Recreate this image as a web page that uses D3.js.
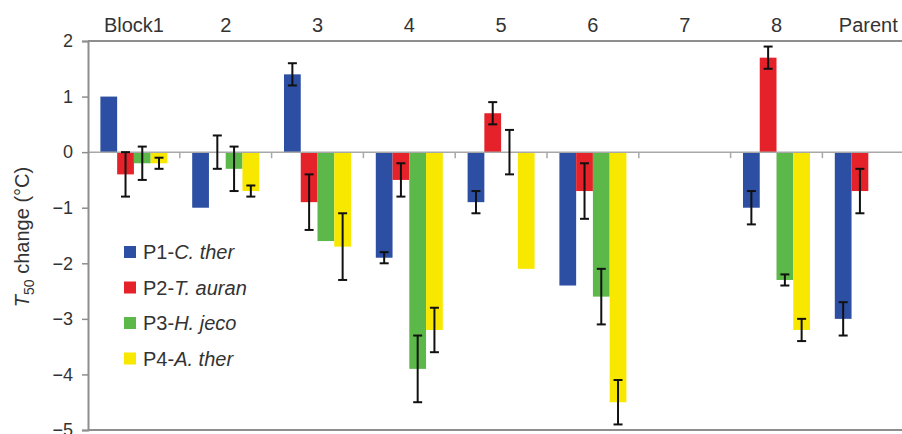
<!DOCTYPE html>
<html>
<head>
<meta charset="utf-8">
<script src="https://cdn.jsdelivr.net/npm/d3@7"></script>
<style>
  body { margin: 0; background: #fff; }
  svg { display: block; font-family: "Liberation Sans", Arial, sans-serif; }
</style>
</head>
<body>
<svg id="chart"></svg>
<script>
// categories along the top
const blocks = ["Block1", "2", "3", "4", "5", "6", "7", "8", "Parent"];
const seriesNames = ["P1", "P2", "P3", "P4"];
const seriesSpecies = ["C. ther", "T. auran", "H. jeco", "A. ther"];
const seriesColors = ["#2d4fa3", "#e52129", "#5cb848", "#f8e800"];

// T50 change values (null = no bar)
const p1Values = [1.0, -1.0, 1.4, -1.9, -0.9, -2.4, null, -1.0, -3.0];
const p2Values = [-0.4, 0, -0.9, -0.5, 0.7, -0.7, null, 1.7, -0.7];
const p3Values = [-0.2, -0.3, -1.6, -3.9, 0, -2.6, null, -2.3, null];
const p4Values = [-0.2, -0.7, -1.7, -3.2, -2.1, -4.5, null, -3.2, null];

// error bar half-lengths (null = no error bar)
const p1Errors = [null, null, 0.2, 0.1, 0.2, null, null, 0.3, 0.3];
const p2Errors = [0.4, 0.3, 0.5, 0.3, 0.2, 0.5, null, 0.2, 0.4];
const p3Errors = [0.3, 0.4, null, 0.6, 0.4, 0.5, null, 0.1, null];
const p4Errors = [0.1, 0.1, 0.6, 0.4, null, 0.4, null, 0.2, null];

const yTicks = [2, 1, 0, -1, -2, -3, -4, -5];

const WIDTH = 902;
const HEIGHT = 434;
const LEFT = 88;
const TOP = 41;
const BOTTOM = 430;
const GROUP_W = 91.8;
const AXIS_COLOR = "#8e8e8e";
const TEXT_COLOR = "#333";

const allValues = [p1Values, p2Values, p3Values, p4Values];
const allErrors = [p1Errors, p2Errors, p3Errors, p4Errors];

const svg = d3.select("#chart").attr("width", WIDTH).attr("height", HEIGHT);

const x = d3.scaleBand()
  .domain(blocks)
  .range([LEFT, LEFT + GROUP_W * blocks.length])
  .paddingInner(0.27)
  .paddingOuter(0.135);

const xInner = d3.scaleBand()
  .domain(seriesNames)
  .range([0, x.bandwidth()]);

const y = d3.scaleLinear().domain([-5, 2]).range([BOTTOM, TOP]);

// build flat list of bars
const bars = [];
blocks.forEach((b, i) => {
  seriesNames.forEach((s, j) => {
    bars.push({ block: b, series: s, color: seriesColors[j], value: allValues[j][i], err: allErrors[j][i] });
  });
});

// bars
svg.append("g")
  .attr("class", "bars")
  .selectAll("rect")
  .data(bars.filter((d) => d.value !== null && d.value !== 0))
  .enter()
  .append("rect")
  .attr("x", (d) => x(d.block) + xInner(d.series))
  .attr("width", xInner.bandwidth())
  .attr("y", (d) => y(Math.max(0, d.value)))
  .attr("height", (d) => Math.abs(y(d.value) - y(0)))
  .attr("fill", (d) => d.color);

// zero line + group ticks
svg.append("line")
  .attr("x1", LEFT).attr("x2", WIDTH)
  .attr("y1", y(0)).attr("y2", y(0))
  .attr("stroke", "#a8a8a8").attr("stroke-width", 1.5);

svg.append("g")
  .selectAll("line")
  .data(blocks.slice(1))
  .enter()
  .append("line")
  .attr("x1", (d) => x(d) - x.step() * 0.135)
  .attr("x2", (d) => x(d) - x.step() * 0.135)
  .attr("y1", y(0)).attr("y2", y(0) + 6)
  .attr("stroke", "#a8a8a8").attr("stroke-width", 1.5);

// error bars
const errG = svg.append("g").attr("class", "errors");
bars.filter((d) => d.err !== null && d.value !== null).forEach((d) => {
  const cx = x(d.block) + xInner(d.series) + xInner.bandwidth() / 2;
  const y1 = y(d.value + d.err);
  const y2 = y(d.value - d.err);
  errG.append("line").attr("x1", cx).attr("x2", cx).attr("y1", y1).attr("y2", y2);
  errG.append("line").attr("x1", cx - 4.5).attr("x2", cx + 4.5).attr("y1", y1).attr("y2", y1);
  errG.append("line").attr("x1", cx - 4.5).attr("x2", cx + 4.5).attr("y1", y2).attr("y2", y2);
});
errG.selectAll("line").attr("stroke", "#111").attr("stroke-width", 2);

// frame: top and bottom lines, left axis
svg.append("line")
  .attr("x1", LEFT).attr("x2", WIDTH).attr("y1", TOP).attr("y2", TOP)
  .attr("stroke", AXIS_COLOR).attr("stroke-width", 2);
svg.append("line")
  .attr("x1", LEFT).attr("x2", WIDTH).attr("y1", BOTTOM).attr("y2", BOTTOM)
  .attr("stroke", AXIS_COLOR).attr("stroke-width", 2);

const yAxis = svg.append("g")
  .attr("transform", `translate(${LEFT},0)`)
  .call(d3.axisLeft(y).tickValues(yTicks).tickSize(6).tickPadding(9)
    .tickFormat((d) => (d < 0 ? "\u2212" + Math.abs(d) : d)));
yAxis.select(".domain").attr("stroke", AXIS_COLOR).attr("stroke-width", 2);
yAxis.selectAll(".tick line").attr("stroke", AXIS_COLOR).attr("stroke-width", 1.5);
yAxis.selectAll(".tick text")
  .attr("fill", TEXT_COLOR)
  .style("font-size", "18px")
  .style("font-family", "Liberation Sans, Arial, sans-serif");

// category labels on top
svg.append("g")
  .selectAll("text")
  .data(blocks)
  .enter()
  .append("text")
  .attr("x", (d) => x(d) + x.bandwidth() / 2)
  .attr("y", 32)
  .attr("text-anchor", "middle")
  .attr("fill", TEXT_COLOR)
  .style("font-size", "20px")
  .text((d) => d);

// y label: T50 change (°C)
const yLabel = svg.append("text")
  .attr("transform", "translate(29,237) rotate(-90)")
  .attr("text-anchor", "middle")
  .attr("fill", TEXT_COLOR)
  .style("font-size", "20px");
yLabel.append("tspan").style("font-style", "italic").text("T");
yLabel.append("tspan").attr("dy", 5).style("font-size", "14px").text("50");
yLabel.append("tspan").attr("dy", -5).text(" change (°C)");

// legend
const legend = svg.append("g").attr("transform", "translate(124,252)");
seriesNames.forEach((s, j) => {
  const row = legend.append("g").attr("transform", `translate(0,${j * 35.5})`);
  row.append("rect")
    .attr("x", 0).attr("y", -6).attr("width", 12).attr("height", 12)
    .attr("fill", seriesColors[j]);
  const t = row.append("text")
    .attr("x", 19).attr("y", 7)
    .attr("fill", TEXT_COLOR)
    .style("font-size", "20px");
  t.append("tspan").text(s + "-");
  t.append("tspan").style("font-style", "italic").text(seriesSpecies[j]);
});
</script>
</body>
</html>
